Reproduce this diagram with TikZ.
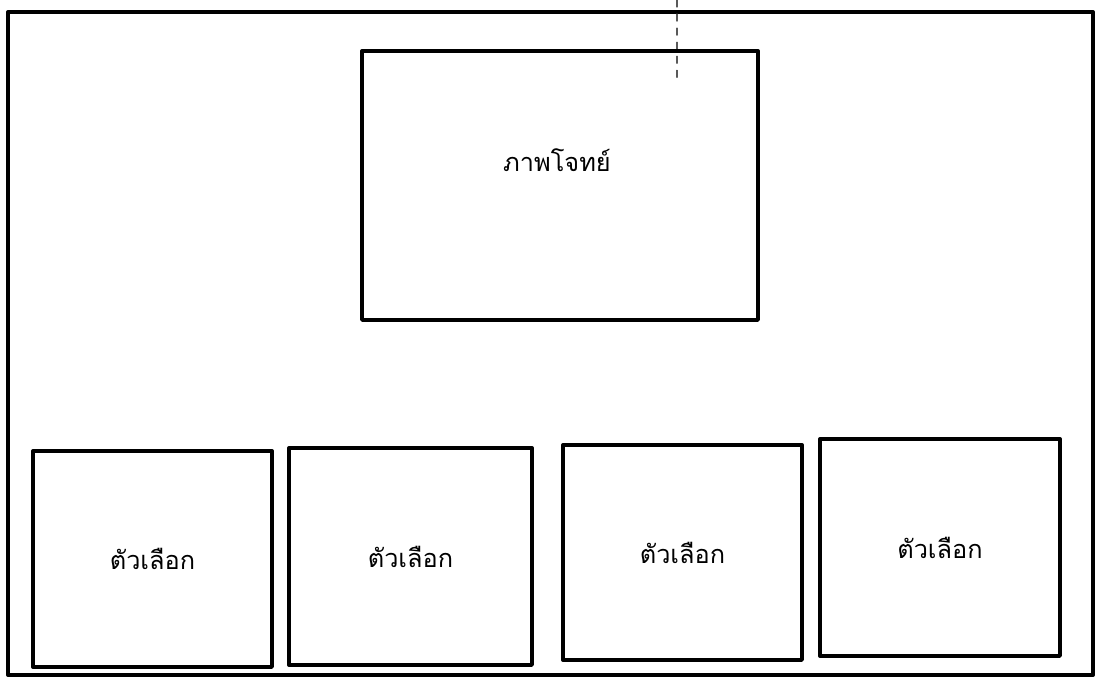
\documentclass[tikz,border=0pt]{standalone}
\usepackage{fontspec}
\newfontfamily\thaifont[Script=Thai]{Loma}
\usetikzlibrary{positioning}
\tikzset{
  optbox/.style={rectangle,draw,line width=2.3pt,minimum width=6cm,minimum height=5.4cm,inner sep=0pt,font=\thaifont\fontsize{18}{21}\selectfont},
  lbl/.style={inner sep=0pt,font=\thaifont\fontsize{18}{21}\selectfont},
  every picture/.style={line cap=round,line join=round}
}

\begin{document}
\begin{tikzpicture}[x=0.025cm,y=-0.025cm]
  \useasboundingbox (0,0) rectangle (1095,684);
  \coordinate (tl) at (8,12);
  \coordinate (br) at (1093,675);
  \draw[line width=2.8pt] (tl) rectangle (br);
  \coordinate (dtop) at (677,0);
  \coordinate (dbot) at (677,78);
  \draw[gray!70!black,line width=0.8pt,dash pattern=on 5pt off 5pt] (dtop) -- (dbot);
  \node[optbox,minimum width=9.9cm,minimum height=6.725cm] (pic) at (560,185.5) {};
  \node[lbl] (pictxt) at (557,160) {ภาพโจทย์};
  \node[optbox,minimum width=5.975cm] (o1) at (152.5,559) {ตัวเลือก};
  \node[optbox,minimum width=6.075cm,minimum height=5.425cm] (o2) at (410.5,556.5) {ตัวเลือก};
  \node[optbox,minimum width=5.975cm,minimum height=5.375cm] (o3) at (682.5,552.5) {ตัวเลือก};
  \node[optbox,minimum height=5.425cm] (o4) at (940,547.5) {ตัวเลือก};
\end{tikzpicture}
\end{document}
